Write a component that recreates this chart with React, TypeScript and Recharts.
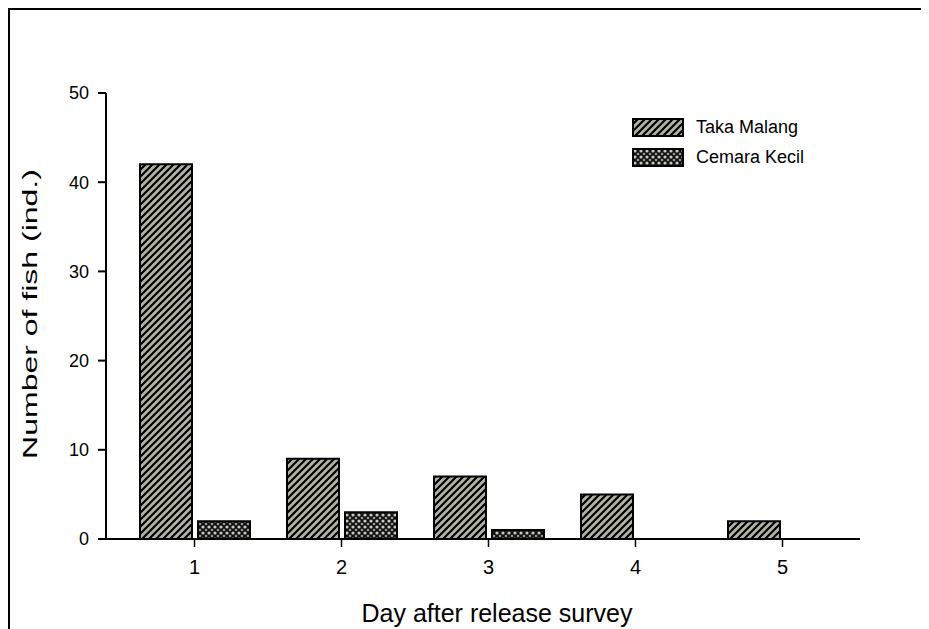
import { BarChart, Bar, XAxis, YAxis, Label } from 'recharts'

const days = ['1', '2', '3', '4', '5']
const takaMalang = [42, 9, 7, 5, 2]
const cemaraKecil = [2, 3, 1, 0, 0]
const yTicks = [0, 10, 20, 30, 40, 50]

const seriesNames = ['Taka Malang', 'Cemara Kecil']
const seriesFills = ['url(#hatch-taka)', 'url(#hatch-cemara)']

const data = days.map((d, i) => ({
  day: d,
  taka: takaMalang[i],
  cemara: cemaraKecil[i],
}))

const font = 'Arial, "Liberation Sans", sans-serif'

function LegendBox() {
  return (
    <div style={{ position: 'absolute', left: 624, top: 104, fontFamily: font }}>
      {seriesNames.map((name, i) => (
        <div key={name} style={{ display: 'flex', alignItems: 'center', height: 30 }}>
          <svg width={52} height={19} style={{ display: 'block' }}>
            <rect x={1} y={1} width={50} height={17} fill={seriesFills[i]} stroke="#000" strokeWidth={2} />
          </svg>
          <span style={{ marginLeft: 12, fontSize: 18, color: '#000' }}>{name}</span>
        </div>
      ))}
    </div>
  )
}

// y title is drawn a little stretched along its length, as in the source figure
function YTitle(props: any) {
  const vb = props.viewBox || { x: 0, y: 0, width: 0, height: 0 }
  const cy = vb.y + vb.height / 2 - 2
  return (
    <text
      transform={`translate(22,${cy}) rotate(-90) scale(1.6,1)`}
      textAnchor="middle"
      dominantBaseline="central"
      fontSize={20}
      fill="#000"
      fontFamily={font}
    >
      Number of fish (ind.)
    </text>
  )
}

function XTitle(props: any) {
  const vb = props.viewBox || { x: 0, y: 0, width: 0, height: 0 }
  return (
    <text x={vb.x + vb.width / 2 + 14} y={614} textAnchor="middle" fontSize={25} fill="#000" fontFamily={font}>
      Day after release survey
    </text>
  )
}

export default function App() {
  return (
    <div style={{ position: 'relative', width: 921, height: 621, overflow: 'hidden', background: '#fff' }}>
      <style>{'html,body{overflow:hidden}'}</style>
      <div style={{ position: 'absolute', left: 0, top: 0, width: 921, height: 2, background: '#000' }} />
      <div style={{ position: 'absolute', left: 0, top: 0, width: 2, height: 621, background: '#000' }} />
      <BarChart
        width={921}
        height={621}
        data={data}
        margin={{ top: 85, right: 69, left: 37, bottom: 50 }}
        barSize={52}
        barGap={6}
        style={{ fontFamily: font }}
      >
        <defs>
          <pattern id="hatch-taka" patternUnits="userSpaceOnUse" width={7} height={7}>
            <rect width={7} height={7} fill="#b2b2a6" />
            <path d="M-1,1 L1,-1 M0,7 L7,0 M6,8 L8,6" stroke="#000" strokeWidth={2.2} />
          </pattern>
          <pattern id="hatch-cemara" patternUnits="userSpaceOnUse" width={6} height={6}>
            <rect width={6} height={6} fill="#111" />
            <circle cx={3} cy={3} r={1.6} fill="#c8c8be" />
            <circle cx={0} cy={0} r={1.3} fill="#9a9a92" />
            <circle cx={6} cy={0} r={1.3} fill="#9a9a92" />
            <circle cx={0} cy={6} r={1.3} fill="#9a9a92" />
            <circle cx={6} cy={6} r={1.3} fill="#9a9a92" />
          </pattern>
        </defs>
        <XAxis
          dataKey="day"
          padding={{ left: 15, right: 4 }}
          tickSize={8}
          tick={{ fontSize: 20, fill: '#000' }}
          tickMargin={13}
          axisLine={{ stroke: '#000', strokeWidth: 2 }}
          tickLine={{ stroke: '#000', strokeWidth: 1.5 }}
          height={40}
        >
          <Label content={<XTitle />} />
        </XAxis>
        <YAxis
          domain={[0, 50]}
          ticks={yTicks}
          width={61}
          tickSize={8}
          tickMargin={9}
          tick={{ fontSize: 18, fill: '#000' }}
          axisLine={{ stroke: '#000', strokeWidth: 2 }}
          tickLine={{ stroke: '#000', strokeWidth: 2 }}
        >
          <Label content={<YTitle />} />
        </YAxis>
        <Bar dataKey="taka" name={seriesNames[0]} fill={seriesFills[0]} stroke="#000" strokeWidth={2} isAnimationActive={false} />
        <Bar dataKey="cemara" name={seriesNames[1]} fill={seriesFills[1]} stroke="#000" strokeWidth={2} isAnimationActive={false} />
      </BarChart>
      <LegendBox />
    </div>
  )
}
